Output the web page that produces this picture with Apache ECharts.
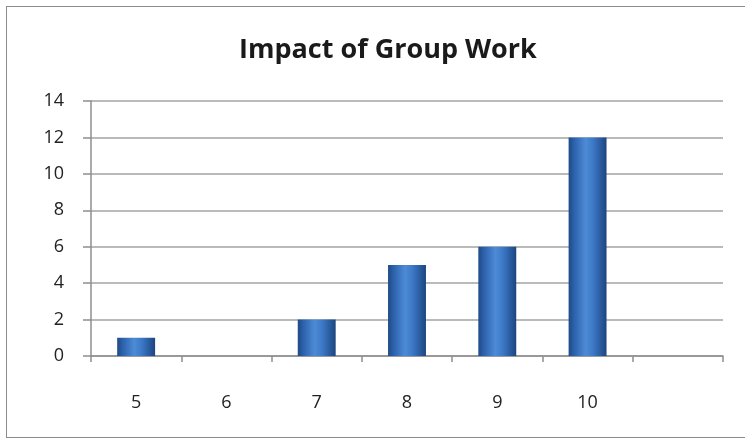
<!DOCTYPE html>
<html lang="en">
  <head>
    <meta charset="UTF-8" />
    <title>Impact of Group Work</title>
  </head>
  <script src="https://cdnjs.cloudflare.com/ajax/libs/echarts/6.0.0/echarts.min.js"></script>
  <style>
    * {
      padding: 0;
      margin: 0;
    }
    body {
      background: #fff;
      width: 745px;
      height: 442px;
      overflow: hidden;
      position: relative;
    }
    .frame {
      position: absolute;
      left: 6px;
      top: 6px;
      width: 760px;
      height: 430px;
      border: 1px solid #8c8c8c;
    }
    .chart {
      position: absolute;
      left: 0;
      top: 0;
      width: 745px;
      height: 442px;
    }
  </style>
  <body>
    <div class="frame"></div>
    <div class="chart" id="chart"></div>
  </body>
  <script>
    const title = "Impact of Group Work";
    const categories = ["5", "6", "7", "8", "9", "10", ""];
    const values = [1, 0, 2, 5, 6, 12, null];
    const yTicks = { min: 0, max: 14, interval: 2 };

    const myChart = echarts.init(document.getElementById("chart"));

    // 柱子横向渐变，模拟圆柱效果
    const barColor = new echarts.graphic.LinearGradient(0, 0, 1, 0, [
      { offset: 0, color: "#1f4a86" },
      { offset: 0.15, color: "#2d62ad" },
      { offset: 0.45, color: "#4d8bd6" },
      { offset: 0.65, color: "#3c78c6" },
      { offset: 1, color: "#1c457f" },
    ]);

    const options = {
      animation: false,
      title: {
        text: title,
        left: 234,
        top: 32,
        textStyle: {
          fontFamily: "Open Sans",
          fontWeight: "bold",
          fontSize: 27,
          color: "#1a1a1a",
        },
      },
      grid: {
        left: 91,
        right: 22,
        top: 101,
        bottom: 86,
      },
      xAxis: {
        type: "category",
        data: categories,
        axisLine: { lineStyle: { color: "#8f8f8f", width: 1.5 } },
        axisTick: {
          show: true,
          alignWithLabel: false,
          length: 6,
          lineStyle: { color: "#8f8f8f", width: 1.5 },
        },
        axisLabel: {
          margin: 38,
          fontFamily: "Open Sans",
          fontSize: 18,
          color: "#222",
        },
      },
      yAxis: {
        type: "value",
        min: yTicks.min,
        max: yTicks.max,
        interval: yTicks.interval,
        axisLine: { show: true, lineStyle: { color: "#8f8f8f", width: 1.5 } },
        axisTick: {
          show: true,
          length: 8,
          lineStyle: { color: "#8f8f8f", width: 1.5 },
        },
        splitLine: { lineStyle: { color: "#a3a3a3", width: 1.5 } },
        axisLabel: {
          margin: 27,
          fontFamily: "Open Sans",
          fontSize: 18,
          color: "#222",
        },
      },
      series: [
        {
          type: "bar",
          data: values,
          barWidth: "42%",
          itemStyle: {
            color: barColor,
            borderWidth: 0,
          },
        },
      ],
    };
    myChart.setOption(options);
  </script>
</html>
